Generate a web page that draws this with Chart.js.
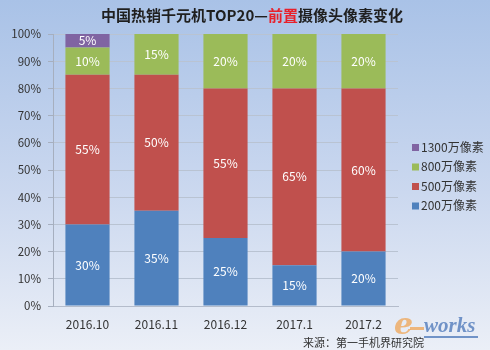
<!DOCTYPE html>
<html>
<head>
<meta charset="utf-8">
<script src="https://cdn.jsdelivr.net/npm/chart.js@4/dist/chart.umd.min.js"></script>
<style>
  html, body { margin: 0; padding: 0; }
  #wrap { position: relative; width: 490px; height: 350px; }
</style>
</head>
<body>
<div id="wrap"><canvas id="canvas" width="490" height="350"></canvas></div>
<script>
var months = ['2016.10', '2016.11', '2016.12', '2017.1', '2017.2'];
var seriesNames = ['200万像素', '500万像素', '800万像素', '1300万像素'];
var px200 = [30, 35, 25, 15, 20];
var px500 = [55, 50, 55, 65, 60];
var px800 = [10, 15, 20, 20, 20];
var px1300 = [5, 0, 0, 0, 0];
var yTicks = [0, 10, 20, 30, 40, 50, 60, 70, 80, 90, 100];

var FONT = '"Noto Sans CJK SC", "Noto Sans", sans-serif';
var colors = ['#4f81bd', '#c0504d', '#9bbb59', '#8064a2'];

// gradient backdrop, title, side legend, value labels, source line
var decor = {
  id: 'decor',
  beforeDraw(chart) {
    var ctx = chart.ctx;
    var g = ctx.createLinearGradient(0, 0, 0, chart.height);
    g.addColorStop(0, '#a9c2e7');
    g.addColorStop(0.55, '#cbd8ef');
    g.addColorStop(1, '#ebeff7');
    ctx.save();
    ctx.fillStyle = g;
    ctx.fillRect(0, 0, chart.width, chart.height);
    ctx.restore();
  },
  afterDatasetsDraw(chart) {
    var ctx = chart.ctx;
    ctx.save();
    ctx.font = '12px ' + FONT;
    ctx.fillStyle = '#ffffff';
    ctx.textAlign = 'center';
    ctx.textBaseline = 'middle';
    chart.data.datasets.forEach(function (ds, i) {
      chart.getDatasetMeta(i).data.forEach(function (bar, j) {
        var v = ds.data[j];
        if (!v) return;
        ctx.fillText(v + '%', bar.x, (bar.y + bar.base) / 2);
      });
    });
    ctx.restore();
  },
  afterDraw(chart) {
    var ctx = chart.ctx;
    ctx.save();

    // title, with the word 前置 in red
    var parts = [['中国热销千元机TOP20—', '#1f1f1f'], ['前置', '#e8202a'], ['摄像头像素变化', '#1f1f1f']];
    ctx.font = 'bold 15px ' + FONT;
    ctx.textBaseline = 'middle';
    var total = parts.reduce(function (s, p) { return s + ctx.measureText(p[0]).width; }, 0);
    var x = 252 - total / 2;
    parts.forEach(function (p) {
      ctx.fillStyle = p[1];
      ctx.fillText(p[0], x, 15);
      x += ctx.measureText(p[0]).width;
    });

    // legend, top entry is the last dataset
    ctx.font = '12px ' + FONT;
    var ly = 147;
    for (var i = chart.data.datasets.length - 1; i >= 0; i--) {
      var ds = chart.data.datasets[i];
      ctx.fillStyle = ds.backgroundColor;
      ctx.fillRect(412, ly - 3, 7, 7);
      ctx.fillStyle = '#333333';
      ctx.textAlign = 'left';
      ctx.fillText(ds.label, 421, ly);
      ly += 19.5;
    }

    // watermark
    ctx.globalAlpha = 0.7;
    ctx.font = 'italic bold 30px "DejaVu Serif", serif';
    ctx.fillStyle = '#f0a04a';
    ctx.fillText('e', 394, 326);
    ctx.fillRect(410, 327, 14, 3);
    ctx.font = 'italic bold 21px "Liberation Serif", serif';
    ctx.fillStyle = '#3d6cb3';
    ctx.fillText('works', 424, 327);
    ctx.fillRect(424, 336, 54, 2);
    ctx.globalAlpha = 1;

    // source
    ctx.font = '11px ' + FONT;
    ctx.fillStyle = '#333333';
    ctx.textAlign = 'left';
    ctx.fillText('来源：第一手机界研究院', 303, 343);
    ctx.restore();
  }
};

var datasets = [px200, px500, px800, px1300].map(function (arr, i) {
  return {
    label: seriesNames[i],
    data: arr,
    backgroundColor: colors[i],
    borderWidth: 0,
    categoryPercentage: 0.64,
    barPercentage: 1
  };
});

new Chart(document.getElementById('canvas'), {
  type: 'bar',
  data: { labels: months, datasets: datasets },
  options: {
    responsive: false,
    animation: false,
    layout: { padding: { left: 0, right: 92, top: 34, bottom: 0 } },
    plugins: {
      legend: { display: false },
      title: { display: false },
      tooltip: { enabled: false }
    },
    scales: {
      x: {
        stacked: true,
        grid: { display: false, drawTicks: false },
        border: { color: '#b4bccb' },
        ticks: { padding: 11, color: '#333333', font: { family: FONT, size: 12 } },
        afterFit: function (s) { s.height = 44; }
      },
      y: {
        stacked: true,
        min: 0,
        max: 100,
        afterBuildTicks: function (s) { s.ticks = yTicks.map(function (v) { return { value: v }; }); },
        grid: { color: '#b9c3d2', tickLength: 5, tickColor: '#a6afbf' },
        border: { color: '#a6afbf' },
        ticks: {
          padding: 7,
          color: '#333333',
          font: { family: FONT, size: 11.5 },
          callback: function (v) { return v + '%'; }
        },
        afterFit: function (s) { s.width = 53; }
      }
    }
  },
  plugins: [decor]
});
</script>
</body>
</html>
